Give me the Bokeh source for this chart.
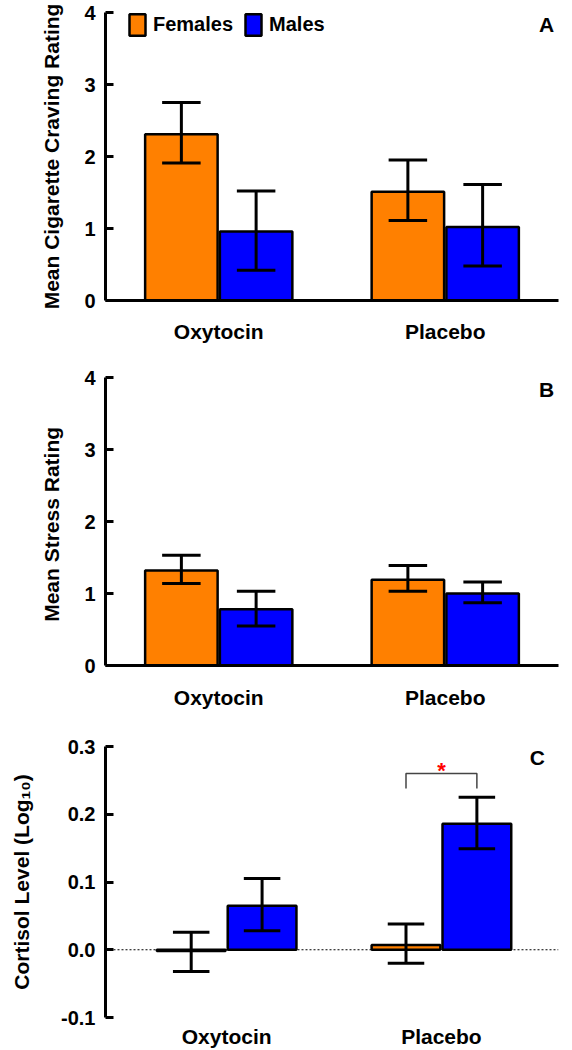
from bokeh.plotting import figure
from bokeh.models import (FixedTicker, Range1d, Span, Label, Legend, LegendItem,
                          PrintfTickFormatter)
from bokeh.layouts import column
from bokeh.embed import file_html
from bokeh.resources import INLINE
from bokeh.core.properties import value

# ---------------- data ----------------
conditions = ["Oxytocin", "Placebo"]
groups = ["Females", "Males"]
group_colors = ["#FF8000", "#0000FF"]

# Panel A: craving
craving_f = [2.31, 1.51]
craving_f_lo = [1.91, 1.11]
craving_f_hi = [2.75, 1.95]
craving_m = [0.96, 1.02]
craving_m_lo = [0.42, 0.48]
craving_m_hi = [1.52, 1.61]

# Panel B: stress
stress_f = [1.32, 1.19]
stress_f_lo = [1.14, 1.03]
stress_f_hi = [1.53, 1.39]
stress_m = [0.78, 1.00]
stress_m_lo = [0.55, 0.87]
stress_m_hi = [1.03, 1.16]

# Panel C: cortisol (log10)
cortisol_f = [-0.002, 0.007]
cortisol_f_lo = [-0.032, -0.020]
cortisol_f_hi = [0.026, 0.038]
cortisol_m = [0.065, 0.186]
cortisol_m_lo = [0.028, 0.149]
cortisol_m_hi = [0.105, 0.225]

rating_ticks = [0, 1, 2, 3, 4]
cortisol_ticks = [-0.1, 0.0, 0.1, 0.2, 0.3]

sig_condition = 1          # index of "Placebo"
sig_bracket_top = 0.26
sig_bracket_foot = 0.238
sig_star_y = 0.265

# ---------------- style ----------------
FONT = "Liberation Sans"
BAR_W = 0.32
OFFSET = 0.165
CAP = 0.085
W = 572


def make_panel(letter, letter_xy, f, f_lo, f_hi, m, m_lo, m_hi, yr, ticks, ylabel,
               height, borders, xr, ylabel_standoff, xlabel_standoff, show_xaxis=True,
               fmt=None):
    top, bottom, left, right = borders
    p = figure(width=W, height=height, x_range=Range1d(*xr), y_range=Range1d(*yr),
               output_backend="svg", toolbar_location=None,
               min_border_top=top, min_border_bottom=bottom,
               min_border_left=left, min_border_right=right)
    p.outline_line_color = None
    p.xgrid.visible = False
    p.ygrid.visible = False

    idx = list(range(len(conditions)))
    xf = [i - OFFSET for i in idx]
    xm = [i + OFFSET for i in idx]

    rf = p.vbar(x=xf, top=f, bottom=0, width=BAR_W, fill_color=group_colors[0],
                line_color="black", line_width=2.5)
    rm = p.vbar(x=xm, top=m, bottom=0, width=BAR_W, fill_color=group_colors[1],
                line_color="black", line_width=2.5)

    for xs, lo, hi in ((xf, f_lo, f_hi), (xm, m_lo, m_hi)):
        p.segment(x0=xs, y0=lo, x1=xs, y1=hi, line_color="black", line_width=3)
        p.segment(x0=[x - CAP for x in xs], y0=hi, x1=[x + CAP for x in xs], y1=hi,
                  line_color="black", line_width=3)
        p.segment(x0=[x - CAP for x in xs], y0=lo, x1=[x + CAP for x in xs], y1=lo,
                  line_color="black", line_width=3)

    # y axis
    ya = p.yaxis[0]
    ya.ticker = FixedTicker(ticks=ticks)
    if fmt:
        ya.formatter = PrintfTickFormatter(format=fmt)
    ya.minor_tick_line_color = None
    ya.major_tick_in = 8
    ya.major_tick_out = 0
    ya.major_tick_line_width = 3
    ya.axis_line_width = 3
    ya.axis_line_color = "black"
    ya.major_tick_line_color = "black"
    ya.major_label_text_font = FONT
    ya.major_label_text_font_style = "bold"
    ya.major_label_text_font_size = "20px"
    ya.major_label_text_color = "black"
    ya.major_label_standoff = 10
    ya.axis_label = ylabel
    ya.axis_label_text_font = FONT
    ya.axis_label_text_font_style = "bold"
    ya.axis_label_text_font_size = "21px"
    ya.axis_label_text_color = "black"
    ya.axis_label_standoff = ylabel_standoff

    # x axis
    xa = p.xaxis[0]
    xa.ticker = FixedTicker(ticks=idx)
    xa.major_label_overrides = {i: c for i, c in zip(idx, conditions)}
    xa.minor_tick_line_color = None
    xa.major_tick_line_color = None
    xa.major_tick_in = 0
    xa.major_tick_out = 0
    xa.major_label_text_font = FONT
    xa.major_label_text_font_style = "bold"
    xa.major_label_text_font_size = "21px"
    xa.major_label_text_color = "black"
    xa.major_label_standoff = xlabel_standoff
    if show_xaxis:
        xa.axis_line_width = 3
        xa.axis_line_color = "black"
    else:
        xa.axis_line_color = None

    p.add_layout(Label(x=letter_xy[0], y=letter_xy[1], text=letter,
                       text_font=FONT, text_font_style="bold",
                       text_font_size="21px", text_align="center",
                       text_baseline="middle", text_color="black"))
    return p, rf, rm


pA, rfA, rmA = make_panel("A", (1.447, 3.84), craving_f, craving_f_lo, craving_f_hi,
                          craving_m, craving_m_lo, craving_m_hi, (0, 4), rating_ticks,
                          "Mean Cigarette Craving Rating", 350, (12, 50, 102, 14),
                          (-0.5, 1.5), 18, 19)
legend = Legend(items=[LegendItem(label=groups[0], renderers=[rfA]),
                       LegendItem(label=groups[1], renderers=[rmA])],
                orientation="horizontal", location=(22, 262),
                glyph_width=20, glyph_height=27, label_height=27,
                label_standoff=6, spacing=10, padding=0, margin=0,
                border_line_color=None, background_fill_alpha=0,
                label_text_font=FONT, label_text_font_style="bold",
                label_text_font_size="20px", label_text_color="black")
pA.add_layout(legend)

pB, _, _ = make_panel("B", (1.447, 3.84), stress_f, stress_f_lo, stress_f_hi,
                      stress_m, stress_m_lo, stress_m_hi, (0, 4), rating_ticks,
                      "Mean  Stress Rating", 375, (27, 60, 102, 14),
                      (-0.5, 1.5), 18, 20)

pC, _, _ = make_panel("C", (1.446, 0.284), cortisol_f, cortisol_f_lo, cortisol_f_hi,
                      cortisol_m, cortisol_m_lo, cortisol_m_hi, (-0.1, 0.3), cortisol_ticks,
                      "Cortisol Level (Log\u2081\u2080)", 325, (21, 32, 105, 0),
                      (-0.564, 1.545), 25, 7, show_xaxis=False, fmt="%.1f")

pC.add_layout(Span(location=0, dimension="width", line_color="black",
                   line_width=1, line_dash="2 2"))
bx = [sig_condition - OFFSET, sig_condition - OFFSET, sig_condition + OFFSET, sig_condition + OFFSET]
by = [sig_bracket_foot, sig_bracket_top, sig_bracket_top, sig_bracket_foot]
pC.line(x=bx, y=by, line_color="#444444", line_width=1.5)
pC.text(x=[sig_condition], y=[sig_star_y], text=["*"], text_color="red",
        text_font=value(FONT), text_font_style="bold", text_font_size="22px",
        text_align="center", text_baseline="alphabetic")

layout = column(pA, pB, pC, spacing=0)
open("out.html", "w").write(file_html(layout, INLINE))
